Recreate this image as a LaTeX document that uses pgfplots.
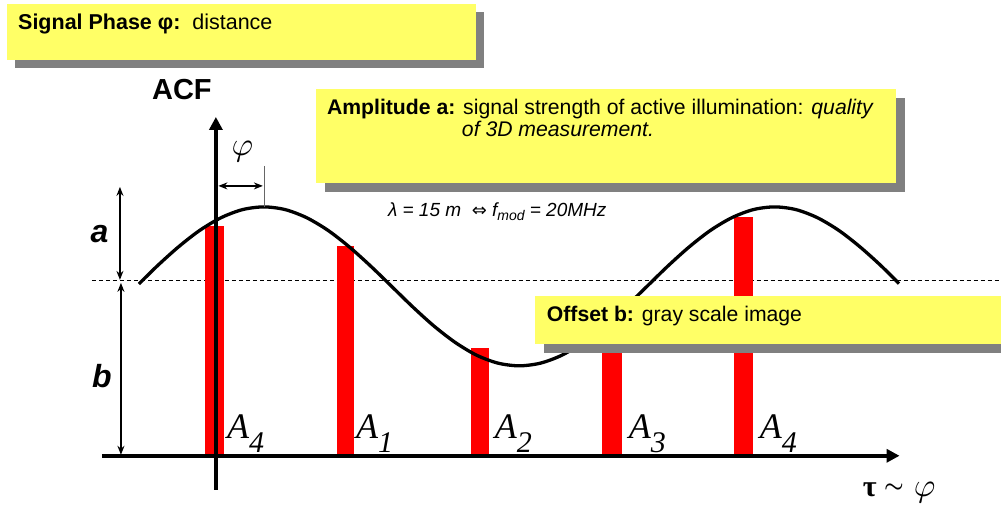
\documentclass[border=0pt]{standalone}
\usepackage{fontspec}
\setmainfont{Liberation Sans}
\newfontfamily\serif{Liberation Serif}
\newfontfamily\dejavu{DejaVu Sans}
\usepackage{graphicx}
\usepackage{pgfplots}
\pgfplotsset{compat=1.18}
\usetikzlibrary{arrows.meta}
\definecolor{boxyellow}{HTML}{FFFF66}
\definecolor{shadowgray}{HTML}{808080}
\newcommand{\fs}[1]{\fontsize{#1}{#1}\selectfont}
\newcommand{\bigphi}{\scalebox{3.3}{\fs{10}$\varphi$}}
\begin{document}
\begin{tikzpicture}
\begin{axis}[width=1001pt,height=509pt,scale only axis,
  xmin=0,xmax=1001,ymin=0,ymax=509,y dir=reverse,hide axis,clip=false]
\path (axis cs:0,0) rectangle (axis cs:1001,509);
% offset line
\draw[line width=1pt, dash pattern=on 4pt off 3pt] (axis cs:92,281) -- (axis cs:1001,281);
% samples A4 A1 A2 A3 A4
\addplot[red, line width=19pt, forget plot] coordinates {(214.5,456) (214.5,226)};
\addplot[red, line width=17pt, forget plot] coordinates {(345.5,456) (345.5,246)};
\addplot[red, line width=18pt, forget plot] coordinates {(480,456) (480,348)};
\addplot[red, line width=20pt, forget plot] coordinates {(612.5,456) (612.5,320)};
\addplot[red, line width=19pt, forget plot] coordinates {(743.5,456) (743.5,217)};
% ACF curve
\addplot[black, line width=3.3pt, smooth] coordinates {
(139,284.1) (157.5,265.9) (178.8,246.8) (200.1,230.3) (221.4,217.7) (242.7,209.7)
(264,207) (285.3,209.7) (306.6,217.7) (327.9,230.3) (349.2,246.8) (370.5,265.9)
(391.8,286.5) (413.0,307.1) (434.3,326.3) (455.6,342.7) (476.9,355.4) (498.2,363.3)
(519.5,366) (540.8,363.3) (562.1,355.4) (583.4,342.7) (604.7,326.3) (626.0,307.1)
(647.3,286.5) (668.5,265.9) (689.8,246.8) (711.1,230.3) (732.4,217.7) (753.7,209.7)
(775,207) (796.3,209.7) (817.6,217.7) (838.9,230.3) (860.2,246.8) (881.5,265.9)
(899.5,283.8)};
% axes
\draw[line width=4pt, -{Triangle[length=13pt,width=13pt]}] (axis cs:102,456) -- (axis cs:900,456);
\draw[line width=4pt, -{Triangle[length=13pt,width=13pt]}] (axis cs:216,490) -- (axis cs:216,117);
% dimension arrows
\draw[line width=1.3pt, {Stealth[length=9pt,width=7pt]}-{Stealth[length=9pt,width=7pt]}] (axis cs:120,187) -- (axis cs:120,280);
\draw[line width=1.3pt, {Stealth[length=9pt,width=7pt]}-{Stealth[length=9pt,width=7pt]}] (axis cs:121,283) -- (axis cs:121,455);
\draw[line width=1.3pt, {Stealth[length=9pt,width=7pt]}-{Stealth[length=9pt,width=7pt]}] (axis cs:218.5,186) -- (axis cs:263,186);
\draw[line width=1pt, black!60] (axis cs:264.5,166) -- (axis cs:264.5,207);
% labels
\node[anchor=base, inner sep=0] at (axis cs:182,100) {\fs{29}\bfseries ACF};
\node[anchor=base, inner sep=0] at (axis cs:242.5,156) {\bigphi};
\node[anchor=base, inner sep=0] at (axis cs:99.5,243) {\fs{32}\bfseries\itshape a};
\node[anchor=base, inner sep=0] at (axis cs:102,388) {\fs{32}\bfseries\itshape b};
\node[anchor=base west, inner sep=0] at (axis cs:227,439) {\serif\itshape\fs{36}A\raisebox{-14pt}{\fs{30}4}};
\node[anchor=base west, inner sep=0] at (axis cs:356,439) {\serif\itshape\fs{36}A\raisebox{-14pt}{\fs{30}1}};
\node[anchor=base west, inner sep=0] at (axis cs:495,439) {\serif\itshape\fs{36}A\raisebox{-14pt}{\fs{30}2}};
\node[anchor=base west, inner sep=0] at (axis cs:629,439) {\serif\itshape\fs{36}A\raisebox{-14pt}{\fs{30}3}};
\node[anchor=base west, inner sep=0] at (axis cs:760,439) {\serif\itshape\fs{36}A\raisebox{-14pt}{\fs{30}4}};
\node[anchor=base west, inner sep=0] at (axis cs:863,497) {\serif\bfseries\fs{30}τ};
\node[anchor=center, inner sep=0] at (axis cs:894.5,488) {\scalebox{2.2}{\fs{10}\boldmath$\sim$}};
\node[anchor=base west, inner sep=0] at (axis cs:914,497) {\bigphi};
\node[anchor=base west, inner sep=0] at (axis cs:388,217) {\fs{19}\itshape λ = 15 m\ \ {\dejavu\upshape\fs{18}⇔}\ f\raisebox{-4pt}{\fs{14}mod} = 20MHz};
% box 1
\fill[shadowgray] (axis cs:15,12) rectangle (axis cs:484,68);
\fill[boxyellow] (axis cs:7,4) rectangle (axis cs:476,60);
\node[anchor=base west, inner sep=0] at (axis cs:18,30) {\fs{21.5}\textbf{Signal Phase φ:}\ \ distance};
% box 2
\fill[shadowgray] (axis cs:325,98) rectangle (axis cs:905,192);
\fill[boxyellow] (axis cs:316,89) rectangle (axis cs:896,183);
\node[anchor=base west, inner sep=0] at (axis cs:327,115) {\fs{21.2}\textbf{Amplitude a:} signal strength of active illumination: \textit{quality}};
\node[anchor=base west, inner sep=0] at (axis cs:462,137) {\fs{21.2}\itshape of 3D measurement.};
% box 3
\fill[shadowgray] (axis cs:544,305) rectangle (axis cs:1001,353);
\fill[boxyellow] (axis cs:535,296) rectangle (axis cs:1001,344);
\node[anchor=base west, inner sep=0] at (axis cs:547,322) {\fs{21.2}\textbf{Offset b:} gray scale image};
\end{axis}
\end{tikzpicture}
\end{document}
